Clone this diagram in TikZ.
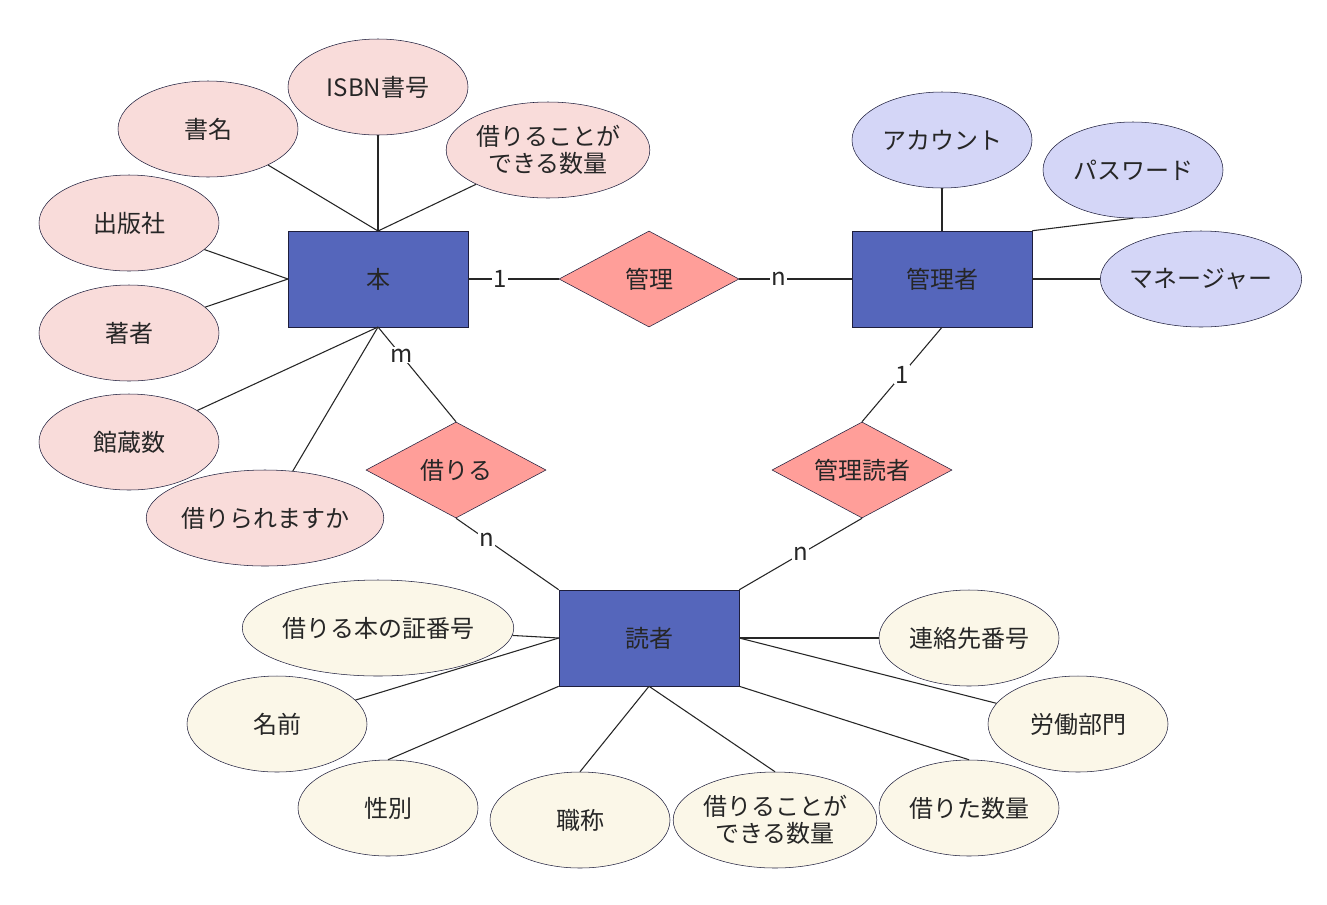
\documentclass[tikz,border=0pt]{standalone}
\usepackage{fontspec}
\setmainfont{Noto Sans CJK JP}
\usetikzlibrary{shapes.geometric}
\definecolor{ent}{HTML}{5566BB}
\definecolor{rel}{HTML}{FF9E99}
\definecolor{pk}{HTML}{F9DCDA}
\definecolor{lv}{HTML}{D4D6F7}
\definecolor{cr}{HTML}{FBF7E8}
\definecolor{bd}{HTML}{1E1E3C}
\begin{document}
\begin{tikzpicture}[x=0.75pt,y=-0.75pt,
  every node/.style={font=\fontsize{18}{20}\selectfont, text=black!85, align=center, inner sep=0pt},
  ent/.style={draw=bd, fill=ent, minimum width=135pt, minimum height=72pt},
  rel/.style={diamond, aspect=1.875, draw=bd, fill=rel, minimum width=135pt, minimum height=72pt},
  attr/.style={ellipse, draw=bd, minimum width=135pt, minimum height=72pt},
  bk/.style={attr, fill=pk}, ad/.style={attr, fill=lv}, rd/.style={attr, fill=cr},
  ln/.style={draw=black!85, line width=0.8pt},
  lb/.style={fill=white, inner sep=1pt}]
\useasboundingbox (0,0) rectangle (1327,904);
\fill[white] (0,0) rectangle (1327,904);
% entities
\node[ent] (book) at (378,279) {本};
\node[ent] (admin) at (942,279) {管理者};
\node[ent] (reader) at (649,638) {読者};
% relations
\node[rel] (kanri) at (649,279) {管理};
\node[rel] (kariru) at (456,470) {借りる};
\node[rel] (kd) at (862,470) {管理読者};
% book attrs
\node[bk] (b1) at (208,129) {書名};
\node[bk] (b2) at (378,87) {ISBN書号};
\node[bk] (b3) at (548,150) {借りることが\\できる数量};
\node[bk] (b4) at (129,223) {出版社};
\node[bk] (b5) at (129,333) {著者};
\node[bk] (b6) at (129,442) {館蔵数};
\node[bk, minimum width=150pt] (b7) at (265,518) {借りられますか};
% admin attrs
\node[ad] (a1) at (942,140) {アカウント};
\node[ad] (a2) at (1133,170) {パスワード};
\node[ad] (a3) at (1201,279) {マネージャー};
% reader attrs
\node[rd, minimum width=165pt] (r1) at (378,628) {借りる本の証番号};
\node[rd] (r2) at (277,724) {名前};
\node[rd] (r3) at (388,808) {性別};
\node[rd] (r4) at (580,820) {職称};
\node[rd] (r5) at (775,820) {借りることが\\できる数量};
\node[rd] (r6) at (969,638) {連絡先番号};
\node[rd] (r7) at (1078,724) {労働部門};
\node[rd] (r8) at (969,808) {借りた数量};
% attr lines
\coordinate (bt) at (378,231);
\coordinate (bl) at (288,279);
\coordinate (bb) at (378,327);
\draw[ln] (b1) -- (bt); \draw[ln] (b2) -- (bt); \draw[ln] (b3) -- (bt);
\draw[ln] (b4) -- (bl); \draw[ln] (b5) -- (bl);
\draw[ln] (b6) -- (bb); \draw[ln] (b7) -- (bb);
\draw[ln] (a1) -- (admin.north);
\draw[ln] (a2.south) -- (admin.north east);
\draw[ln] (a3) -- (admin.east);
\draw[ln] (r1) -- (reader.west); \draw[ln] (r2) -- (reader.west);
\draw[ln] (r3.north) -- (reader.south west);
\draw[ln] (r4.north) -- (reader.south);
\draw[ln] (r5.north) -- (reader.south);
\draw[ln] (r6) -- (reader.east);
\draw[ln] (r7) -- (reader.east);
\draw[ln] (r8.north) -- (reader.south east);
% relation lines
\draw[ln] (book.east) -- node[lb, pos=0.35] {1} (kanri.west);
\draw[ln] (kanri.east) -- node[lb, pos=0.35] {n} (admin.west);
\draw[ln] (bb) -- node[lb, pos=0.3] {m} (kariru.north);
\draw[ln] (kariru.south) -- node[lb, pos=0.3] {n} (reader.north west);
\draw[ln] (admin.south) -- node[lb, pos=0.5] {1} (kd.north);
\draw[ln] (kd.south) -- node[lb, pos=0.5] {n} (reader.north east);
\end{tikzpicture}
\end{document}
